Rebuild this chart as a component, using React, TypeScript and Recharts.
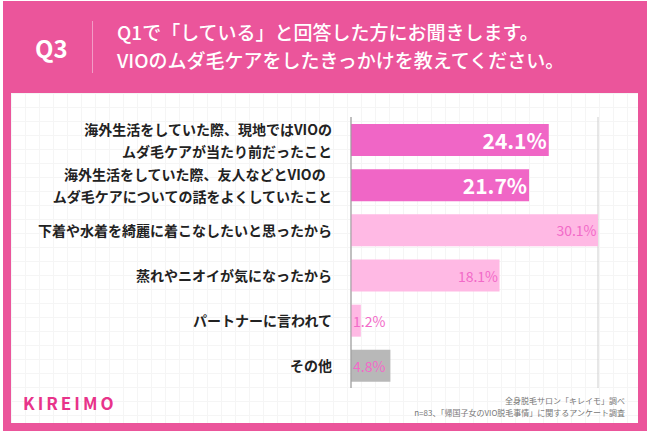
import { BarChart, Bar, XAxis, YAxis, CartesianGrid, Cell, LabelList } from "recharts"

const categories: string[][] = [
  ["海外生活をしていた際、現地ではVIOの", "ムダ毛ケアが当たり前だったこと"],
  ["海外生活をしていた際、友人などとVIOの\u00a0\u00a0", "ムダ毛ケアについての話をよくしていたこと"],
  ["下着や水着を綺麗に着こなしたいと思ったから"],
  ["蒸れやニオイが気になったから"],
  ["パートナーに言われて"],
  ["その他"],
]
const values = [24.1, 21.7, 30.1, 18.1, 1.2, 4.8]
const barColors = ["#f066c6", "#f066c6", "#ffb9e4", "#ffb9e4", "#ffb9e4", "#b8b8b8"]
const strongLabel = [true, true, false, false, false, false]
const xTicks = [0, 10, 20, 30]

const title = ["Q1で「している」と回答した方にお聞きします。", "VIOのムダ毛ケアをしたきっかけを教えてください。"]
const notes = ["全身脱毛サロン「キレイモ」調べ", "n=83、「帰国子女のVIO脱毛事情」に関するアンケート調査"]

const data = categories.map((lines, i) => ({
  key: String(i),
  value: values[i],
}))

const FONT = '"Noto Sans CJK JP", "Noto Sans", sans-serif'
const PINK = "#eb559b"

function CategoryTick(props: any) {
  const { x, y, payload } = props
  const lines = categories[Number(payload.value)]
  const start = -((lines.length - 1) * 22) / 2
  return (
    <text x={x - 11} y={y} textAnchor="end" fill="#222" fontSize={14} fontWeight={700} fontFamily={FONT}>
      {lines.map((l, i) => (
        <tspan key={i} x={x - 11} y={y + start + i * 22} dominantBaseline="central">
          {l}
        </tspan>
      ))}
    </text>
  )
}

function ValueLabel(props: any) {
  const { x, y, width, height, index } = props
  const v = values[index]
  const cy = y + height / 2
  if (strongLabel[index]) {
    return (
      <text x={x + width - 2} y={cy} textAnchor="end" dominantBaseline="central" fill="#fff"
        fontSize={21} fontWeight={700} fontFamily={FONT}>
        {v}%
      </text>
    )
  }
  const narrow = width < 40
  return (
    <text x={narrow ? x + 2 : x + width - 1.5} y={cy} textAnchor={narrow ? "start" : "end"}
      dominantBaseline="central" fill="#f26ac8" fontSize={14} fontFamily={FONT}>
      {v}%
    </text>
  )
}

export default function App() {
  return (
    <div style={{ position: "absolute", left: 0, top: 0, width: 650, height: 435, background: "#fff", fontFamily: FONT }}>
      <div style={{ position: "absolute", left: 3, top: 1, width: 644, height: 430, background: PINK }} />
      <div
        style={{
          position: "absolute", left: 11, top: 93, width: 627, height: 330, background: "#fff",
          backgroundImage:
            "linear-gradient(#f5f5f5 1px, transparent 1px), linear-gradient(90deg, #f5f5f5 1px, transparent 1px)",
          backgroundSize: "14px 14px",
        }}
      />
      <div style={{ position: "absolute", left: 35, top: 33, color: "#fff", fontSize: 24, fontWeight: 700, lineHeight: "30px" }}>
        Q3
      </div>
      <div style={{ position: "absolute", left: 92, top: 21, width: 1, height: 52, background: "#f29cc6" }} />
      <div style={{ position: "absolute", left: 117, top: 18, color: "#fff", fontSize: 19, fontWeight: 500, lineHeight: "28px", whiteSpace: "nowrap" }}>
        {title.map((t, i) => (
          <div key={i}>{t}</div>
        ))}
      </div>
      <div style={{ position: "absolute", left: 23, top: 392, color: "#e8338a", fontSize: 17, fontWeight: 700, letterSpacing: 3, lineHeight: "22px" }}>
        KIREIMO
      </div>
      <div style={{ position: "absolute", right: 25, top: 395, color: "#777", fontSize: 8, lineHeight: "12px", textAlign: "right", whiteSpace: "nowrap" }}>
        {notes.map((t, i) => (
          <div key={i}>{t}</div>
        ))}
      </div>
      <div style={{ position: "absolute", left: 0, top: 0 }}>
        <BarChart width={650} height={435} data={data} layout="vertical"
          margin={{ top: 117, right: 52, bottom: 47, left: 0 }} barSize={32}>
          <CartesianGrid horizontal={false} stroke="#cfcfcf" />
          <XAxis type="number" domain={[0, 30.1]} ticks={xTicks} tick={false} tickLine={false}
            height={0} axisLine={{ stroke: "#666" }} />
          <YAxis type="category" dataKey="key" width={351} tickLine={false} axisLine={{ stroke: "#999" }}
            tick={<CategoryTick />} interval={0} />
          <Bar dataKey="value" isAnimationActive={false}>
            {data.map((d, i) => (
              <Cell key={d.key} fill={barColors[i]} />
            ))}
            <LabelList dataKey="value" content={<ValueLabel />} />
          </Bar>
        </BarChart>
      </div>
    </div>
  )
}
